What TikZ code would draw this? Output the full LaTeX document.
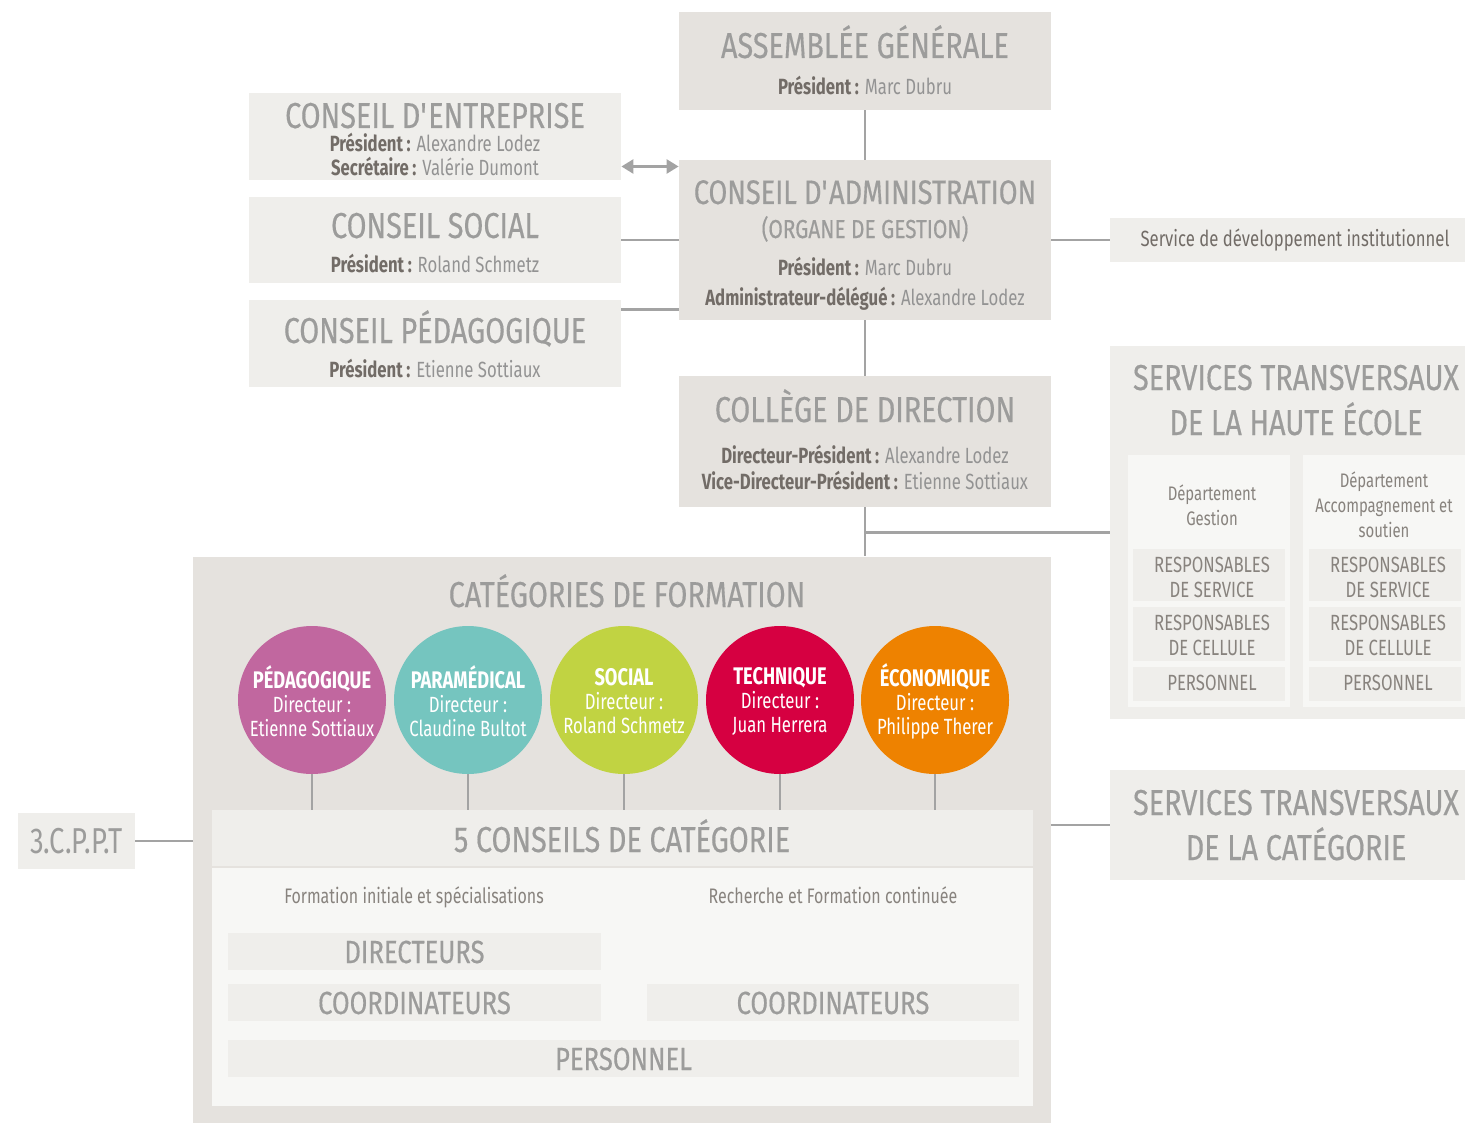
\documentclass[tikz,border=0pt]{standalone}
\usepackage{fontspec}
\setmainfont[FakeStretch=0.76]{Fira Sans}
\newfontfamily\titlefont[FakeStretch=0.80,FakeBold=0.4]{Fira Sans}
\usetikzlibrary{arrows.meta}
\definecolor{boxdark}{HTML}{E5E2DE}
\definecolor{boxlight}{HTML}{EFEEEB}
\definecolor{boxpale}{HTML}{F7F7F5}
\definecolor{ttlgray}{HTML}{9C9C9B}
\definecolor{lblgray}{HTML}{726C67}
\definecolor{namegray}{HTML}{939393}
\definecolor{smgray}{HTML}{88837E}
\definecolor{linegray}{HTML}{A3A3A3}
\definecolor{pedag}{HTML}{C1679F}
\definecolor{param}{HTML}{75C5BF}
\definecolor{soc}{HTML}{C1D342}
\definecolor{tech}{HTML}{D60041}
\definecolor{eco}{HTML}{EE8200}
\newcommand{\fonction}[2]{{\bfseries\color{lblgray}#1\,:} #2}

\begin{document}
\begin{tikzpicture}[x=0.5pt,y=-0.5pt,>={Triangle[length=6pt,width=7pt]},
  dkbox/.style={rectangle,fill=boxdark,inner sep=0pt},
  ltbox/.style={rectangle,fill=boxlight,inner sep=0pt},
  pabox/.style={rectangle,fill=boxpale,inner sep=0pt},
  ttl/.style={anchor=base,inner sep=0pt,text=ttlgray,font=\titlefont\fontsize{18}{20}\selectfont},
  sttl/.style={ttl},
  mid/.style={anchor=base,inner sep=0pt,text=ttlgray,font=\titlefont\fontsize{16}{18}\selectfont},
  sub/.style={anchor=base,inner sep=0pt,text=namegray,font=\fontsize{11}{13}\selectfont},
  small/.style={anchor=base,inner sep=0pt,text=smgray,font=\fontsize{11}{12}\selectfont},
  dept/.style={small,font=\fontsize{9.8}{12}\selectfont},
  catcircle/.style={circle,minimum size=74pt,inner sep=0pt,text=white,align=center,font=\fontsize{11}{12}\selectfont},
  conn/.style={draw=linegray,line width=1.25pt}]
\useasboundingbox (0,0) rectangle (1465,1123);

% top of the chart
\node [dkbox,minimum width=186pt,minimum height=49pt] (ag) at (865,61) {};
\node [ttl] (agT) at (865,58) {ASSEMBLÉE GÉNÉRALE};
\node [sub] (agP) at (865,95) {\fonction{Président}{Marc Dubru}};

\node [dkbox,minimum width=186pt,minimum height=80pt] (ca) at (865,240) {};
\node [ttl,font=\titlefont\fontsize{17}{20}\selectfont] (caT) at (865,204) {CONSEIL D\textquotesingle ADMINISTRATION};
\node [ttl,font=\titlefont\fontsize{13}{15}\selectfont] (caO) at (865,238) {(ORGANE DE GESTION)};
\node [sub] (caP) at (865,275) {\fonction{Président}{Marc Dubru}};
\node [sub] (caA) at (865,305) {\fonction{Administrateur-délégué}{Alexandre Lodez}};

\node [dkbox,minimum width=186pt,minimum height=65.5pt] (cd) at (865,441.5) {};
\node [ttl] (cdT) at (865,422) {COLLÈGE DE DIRECTION};
\node [sub] (cdP) at (865,463) {\fonction{Directeur-Président}{Alexandre Lodez}};
\node [sub] (cdV) at (865,489) {\fonction{Vice-Directeur-Président}{Etienne Sottiaux}};

% conseils on the left
\node [ltbox,minimum width=186pt,minimum height=43.5pt] (ce) at (435,136.5) {};
\node [ttl] (ceT) at (435,128) {CONSEIL D\textquotesingle ENTREPRISE};
\node [sub] (ceP) at (435,152) {\fonction{Président}{Alexandre Lodez}};
\node [sub] (ceS) at (435,176) {\fonction{Secrétaire}{Valérie Dumont}};

\node [ltbox,minimum width=186pt,minimum height=43pt] (cs) at (435,240) {};
\node [ttl] (csT) at (435,238) {CONSEIL SOCIAL};
\node [sub] (csP) at (435,272) {\fonction{Président}{Roland Schmetz}};

\node [ltbox,minimum width=186pt,minimum height=43.5pt] (cp) at (435,343.5) {};
\node [ttl] (cpT) at (435,343) {CONSEIL PÉDAGOGIQUE};
\node [sub] (cpP) at (435,377) {\fonction{Président}{Etienne Sottiaux}};

% services on the right
\node [ltbox,minimum width=177.5pt,minimum height=22pt] (sdi) at (1287.5,240) {};
\node [sub,text=lblgray] (sdiT) at (1295,247) {Service de développement institutionnel};

\node [ltbox,minimum width=177.5pt,minimum height=186.5pt] (sthe) at (1287.5,532.5) {};
\node [sttl] (stheT) at (1296,390) {SERVICES TRANSVERSAUX};
\node [sttl] (stheH) at (1296,435) {DE LA HAUTE ÉCOLE};
\node [pabox,minimum width=81pt,minimum height=126pt] (dg) at (1209,581) {};
\node [pabox,minimum width=81pt,minimum height=126pt] (da) at (1384,581) {};
\node [dept] (dgA) at (1212,500) {Département};
\node [dept] (dgB) at (1212,525) {Gestion};
\node [dept] (daA) at (1384,487) {Département};
\node [dept] (daB) at (1384,512) {Accompagnement et};
\node [dept] (daC) at (1384,537) {soutien};
\foreach \c/\x in {g/1209,a/1385}{
  \node [ltbox,minimum width=76pt,minimum height=26pt] (rs\c) at (\x,575) {};
  \node [ltbox,minimum width=76pt,minimum height=27pt] (rc\c) at (\x,634) {};
  \node [ltbox,minimum width=76pt,minimum height=17pt] (pe\c) at (\x,684) {};
  \node [small] (rs\c A) at (\x+3,572) {RESPONSABLES};
  \node [small] (rs\c B) at (\x+3,597) {DE SERVICE};
  \node [small] (rc\c A) at (\x+3,630) {RESPONSABLES};
  \node [small] (rc\c B) at (\x+3,655) {DE CELLULE};
  \node [small] (pe\c A) at (\x+3,690) {PERSONNEL};
}

\node [ltbox,minimum width=177.5pt,minimum height=55pt] (stc) at (1287.5,825) {};
\node [sttl] (stcT) at (1296,815) {SERVICES TRANSVERSAUX};
\node [sttl] (stcC) at (1296,860) {DE LA CATÉGORIE};

% categories de formation
\node [dkbox,minimum width=429pt,minimum height=283pt] (cat) at (622,839.5) {};
\node [ttl] (catT) at (627,607) {CATÉGORIES DE FORMATION};
\node [catcircle,fill=pedag] (c1) at (312,700) {};
\node [catcircle,fill=param] (c2) at (468,700) {};
\node [catcircle,fill=soc] (c3) at (624,700) {};
\node [catcircle,fill=tech] (c4) at (780,700) {};
\node [catcircle,fill=eco] (c5) at (935,700) {};
\node [catcircle,fill=none] (c1T) at (312,701) {\textbf{\fontsize{12}{12}\selectfont PÉDAGOGIQUE}\\Directeur :\\Etienne Sottiaux};
\node [catcircle,fill=none] (c2T) at (468,701) {\textbf{\fontsize{12}{12}\selectfont PARAMÉDICAL}\\Directeur :\\Claudine Bultot};
\node [catcircle,fill=none] (c3T) at (624,701) {\textbf{\fontsize{12}{12}\selectfont SOCIAL}\\Directeur :\\Roland Schmetz};
\node [catcircle,fill=none] (c4T) at (780,701) {\textbf{\fontsize{12}{12}\selectfont TECHNIQUE}\\Directeur :\\Juan Herrera};
\node [catcircle,fill=none] (c5T) at (935,701) {\textbf{\fontsize{12}{12}\selectfont ÉCONOMIQUE}\\Directeur :\\Philippe Therer};

\node [ltbox,minimum width=410.5pt,minimum height=28pt] (ccat) at (622.5,838) {};
\node [ttl] (ccatT) at (622,852) {5 CONSEILS DE CATÉGORIE};
\node [pabox,minimum width=410.5pt,minimum height=119pt] (low) at (622.5,987) {};
\node [sub,text=smgray,font=\fontsize{10.5}{12}\selectfont] (fi) at (414,903) {Formation initiale et spécialisations};
\node [sub,text=smgray,font=\fontsize{10.5}{12}\selectfont] (rf) at (833,903) {Recherche et Formation continuée};
\node [ltbox,minimum width=186.5pt,minimum height=18.5pt] (dir) at (414.5,951.5) {};
\node [mid] (dirT) at (414.5,963) {DIRECTEURS};
\node [ltbox,minimum width=186.5pt,minimum height=18.5pt] (co1) at (414.5,1002.5) {};
\node [mid] (co1T) at (414.5,1014) {COORDINATEURS};
\node [ltbox,minimum width=186pt,minimum height=18.5pt] (co2) at (833,1002.5) {};
\node [mid] (co2T) at (833,1014) {COORDINATEURS};
\node [ltbox,minimum width=395.5pt,minimum height=18.5pt] (pers) at (623.5,1058.5) {};
\node [mid] (persT) at (623.5,1070) {PERSONNEL};

\node [ltbox,minimum width=58.5pt,minimum height=28pt] (cppt) at (76.5,841) {};
\node [ttl,font=\fontsize{18}{20}\selectfont] (cpptT) at (76.5,853) {3.C.P.P.T};

% connectors
\draw [conn] (ag.south) -- (ca.north);
\draw [conn] (ca.south) -- (cd.north);
\draw [conn] (cd.south) -- (cd.south |- cat.north);
\draw [conn] (cd.south |- sthe.west) -- (sthe.west);
\draw [conn,<->,linegray] ([yshift=-15pt]ce.east) -- ([yshift=-15pt]ce.east -| ca.west);
\draw [conn] (cs.east) -- (ca.west);
\draw [conn] ([yshift=-5pt]cp.north east) -- ([yshift=-5pt]cp.north east -| ca.west);
\draw [conn] (ca.east) -- (sdi.west);
\draw [conn] (stc.west -| cat.east) -- (stc.west);
\draw [conn] (cppt.east) -- (cppt.east -| cat.west);
\foreach \i in {1,...,5}
  \draw [conn] (c\i.south) -- (c\i.south |- ccat.north);
\end{tikzpicture}
\end{document}
